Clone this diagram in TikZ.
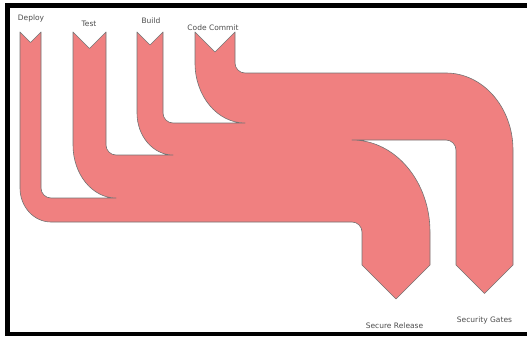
\documentclass[tikz,border=0pt]{standalone}
\usepackage{fontspec}
\setmainfont{DejaVu Sans}
\usetikzlibrary{positioning}
\definecolor{flowfill}{RGB}{240,128,128}

\begin{document}
\begin{tikzpicture}[x=1pt,y=-1pt,font=\fontsize{7.5}{9}\selectfont]
  % pixel grid: 527 x 338, y grows downward
  \useasboundingbox (0,0) rectangle (527,338);
  \tikzset{flow/.style={fill=flowfill,draw=black!55,line width=0.6pt,line join=round},
           lbl/.style={text=black!70,inner sep=0pt}}
  % frame (right side is cut off)
  \draw[line width=4.5pt] (527,5.5) -- (7.5,5.5) -- (7.5,334) -- (527,334);
  % one outline: inputs enter at the top, outputs leave at the bottom
  \draw[flow] (20,32) -- (30.5,42.5) -- (41,32)                          % Deploy
    -- (41,188) arc[start angle=180,end angle=90,radius=10] -- (116,198)
    arc[start angle=90,end angle=180,x radius=43,y radius=53]
    -- (73,32) -- (89.5,48.5) -- (106,32)                                 % Test
    -- (106,145) arc[start angle=180,end angle=90,radius=10] -- (173,155)
    arc[start angle=90,end angle=180,x radius=36,y radius=42]
    -- (137,32) -- (150,45) -- (163,32)                                   % Build
    -- (163,113) arc[start angle=180,end angle=90,radius=10] -- (245,123)
    arc[start angle=90,end angle=180,x radius=50,y radius=60]
    -- (195,32) -- (215,52) -- (235,32)                                   % Code Commit
    -- (235,63) arc[start angle=180,end angle=90,radius=10] -- (446,73)
    arc[start angle=270,end angle=360,x radius=67,y radius=77]
    -- (513,265) -- (484.5,293.5) -- (456,265)                            % Security Gates
    -- (456,150) arc[start angle=0,end angle=-90,radius=10] -- (352,140)
    arc[start angle=270,end angle=360,x radius=78,y radius=92]
    -- (430,265) -- (396,299) -- (362,265)                                % Secure Release
    -- (362,232) arc[start angle=0,end angle=-90,radius=10] -- (51,222)
    arc[start angle=90,end angle=180,x radius=31,y radius=34]
    -- cycle;
  % flow labels
  \node[lbl] (deploy)  at (31,18)    {Deploy};
  \node[lbl] (test)    at (89,24)    {Test};
  \node[lbl] (build)   at (151,21)   {Build};
  \node[lbl] (commit)  at (213,28)   {Code Commit};
  \node[lbl] (release) at (394.5,326) {Secure Release};
  \node[lbl] (gates)   at (484.5,320) {Security Gates};
\end{tikzpicture}
\end{document}
